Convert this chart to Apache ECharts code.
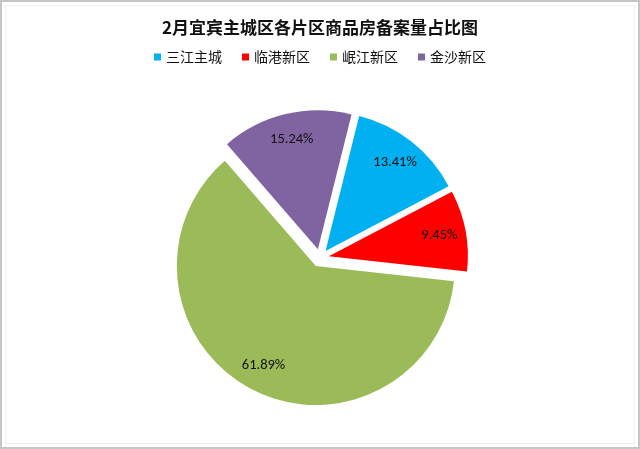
<!DOCTYPE html>
<html lang="zh">
<head>
    <meta charset="UTF-8">
    <title>2月宜宾主城区各片区商品房备案量占比图</title>
    <style>
        html, body { margin: 0; padding: 0; background: #fff; }
        .wrap {
            width: 636px;
            height: 445px;
            border: 2px solid #c6c6c6;
            position: relative;
        }
        .inner {
            position: absolute;
            left: 3px; top: 3px; right: 3px; bottom: 3px;
            border: 1px solid #eeeeee;
        }
        #chart { position: absolute; left: 0; top: 0; width: 636px; height: 445px; }
    </style>
</head>
<body>
<div class="wrap">
    <div class="inner"></div>
    <div id="chart"></div>
</div>
<script src="https://cdn.jsdelivr.net/npm/echarts@6/dist/echarts.min.js"></script>
<script>
    // 数据
    const categories = ['三江主城', '临港新区', '岷江新区', '金沙新区']
    const shares = [13.41, 9.45, 61.89, 15.24]
    const colors = ['#00B0F0', '#FF0000', '#9BBB59', '#8064A2']

    const chart = echarts.init(document.getElementById('chart'))

    const pieData = categories.map((name, i) => ({
        name,
        value: shares[i],
        selected: true,
        itemStyle: { color: colors[i] }
    }))

    // 两个系列共用同一份数据：一个画扇形，一个只负责放标签（透明环）
    const center = [318, 256]
    const common = {
        type: 'pie',
        center,
        startAngle: 76,
        clockwise: true,
        selectedMode: 'multiple',
        selectedOffset: 9,
        animation: false,
        silent: true,
        labelLine: { show: false }
    }

    chart.setOption({
        title: {
            text: '2月宜宾主城区各片区商品房备案量占比图',
            left: 'center',
            top: 12,
            textStyle: {
                fontFamily: 'Noto Sans CJK SC',
                fontSize: 17,
                fontWeight: 'bold',
                color: '#111'
            }
        },
        legend: {
            data: categories,
            top: 43,
            left: 'center',
            icon: 'rect',
            itemWidth: 7,
            itemHeight: 7,
            itemGap: 20,
            textStyle: {
                fontFamily: 'Noto Sans CJK SC',
                fontSize: 14,
                color: '#111'
            }
        },
        series: [
            Object.assign({}, common, {
                name: 'pie',
                radius: [0, 139],
                label: { show: false },
                data: pieData
            }),
            Object.assign({}, common, {
                name: 'labels',
                radius: [80, 139],
                itemStyle: { color: 'rgba(0,0,0,0)' },
                label: {
                    show: true,
                    position: 'inside',
                    fontFamily: 'Calibri, Carlito, "Liberation Sans", sans-serif',
                    fontSize: 14.5,
                    color: '#111',
                    formatter: p => p.value.toFixed(2) + '%'
                },
                data: categories.map((name, i) => ({
                    name,
                    value: shares[i],
                    selected: true,
                    itemStyle: { color: 'rgba(0,0,0,0)' }
                }))
            })
        ]
    })
</script>
</body>
</html>
